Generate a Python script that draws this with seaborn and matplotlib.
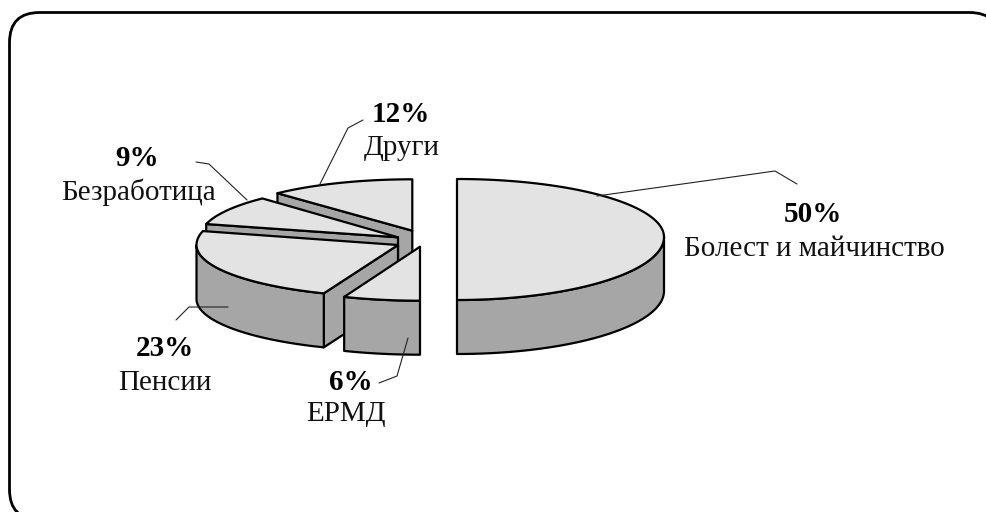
import numpy as np
import seaborn as sns
import matplotlib.pyplot as plt
from matplotlib.patches import FancyBboxPatch, Polygon

# Data
labels = ["Болест и майчинство", "ЕРМД", "Пенсии", "Безработица", "Други"]
shares = [50, 6, 23, 9, 12]
share_labels = ["50%", "6%", "23%", "9%", "12%"]

# Slice geometry in pixels: apex x, apex y, rx, ry back, ry front
geometry = [
    (457, 237, 207, 58, 63),
    (420, 246.7, 206, 54, 54),
    (398, 245, 201.5, 56, 52),
    (398, 237.3, 198, 53.3, 53.3),
    (412.3, 230.7, 197, 51.4, 51.4),
]
draw_order = [4, 3, 2, 1, 0]
depth = 54

TOP_COLOR = "#e3e3e3"
WALL_COLOR = "#a6a6a6"
EDGE = 1.6

# Label positions: share x, share y, name x, name y
label_pos = [
    (813, 215, 814, 249),
    (351, 382, 346, 414),
    (165, 349, 165, 383),
    (137, 159, 139, 192),
    (401, 115, 402, 148),
]
leaders = [
    [(597, 196), (775, 171), (797, 184)],
    [(408, 338), (397, 376), (379, 383)],
    [(228, 307), (189, 307), (176, 320)],
    [(247, 200), (209, 164), (196, 162)],
    [(319, 186), (348, 128), (363, 120)],
]

sns.set_theme(style="white")
plt.rcParams["font.family"] = ["Liberation Serif", "DejaVu Serif"]

fig, ax = plt.subplots(figsize=(9.86, 5.12), dpi=100)
ax.set_position([0, 0, 1, 1])
ax.set_xlim(0, 986)
ax.set_ylim(512, 0)
ax.axis("off")

# Rounded frame, runs past the right and bottom of the picture
frame = FancyBboxPatch(
    (39.5, 42.5), 930, 447,
    boxstyle="round,pad=30,rounding_size=30",
    fc="white", ec="black", lw=2.0, zorder=1
)
ax.add_patch(frame)


def rim(geo, t):
    x0, y0, rx, ry_back, ry_front = geo
    t = np.asarray(t, dtype=float)
    c = np.cos(t)
    ry = np.where(c > 0, ry_back, ry_front)
    return x0 + rx * np.sin(t), y0 - ry * c


def draw_slice(geo, start, end, z):
    x0, y0 = geo[0], geo[1]
    wall = dict(fc=WALL_COLOR, ec="black", lw=EDGE, joinstyle="round", zorder=z)

    # Radial side faces, only those turned to the viewer
    for t, visible in ((start, np.sin(start) < -1e-6), (end, np.sin(end) > 1e-6)):
        if visible:
            rx_pt, ry_pt = rim(geo, t)
            pts = [(x0, y0), (rx_pt, ry_pt), (rx_pt, ry_pt + depth), (x0, y0 + depth)]
            ax.add_patch(Polygon(pts, closed=True, **wall))

    # Outer wall along the front half of the rim
    a, b = max(start, np.pi / 2), min(end, 3 * np.pi / 2)
    if b > a:
        tt = np.linspace(a, b, 80)
        xs, ys = rim(geo, tt)
        pts = np.r_[np.c_[xs, ys], np.c_[xs[::-1], ys[::-1] + depth]]
        ax.add_patch(Polygon(pts, closed=True, **wall))

    # Top face
    tt = np.linspace(start, end, 120)
    xs, ys = rim(geo, tt)
    pts = np.r_[[(x0, y0)], np.c_[xs, ys]]
    ax.add_patch(Polygon(pts, closed=True, fc=TOP_COLOR, ec="black", lw=EDGE,
                         joinstyle="round", zorder=z))


edges = np.r_[0, np.cumsum(shares)] / np.sum(shares) * 2 * np.pi
for n, i in enumerate(draw_order):
    draw_slice(geometry[i], edges[i], edges[i + 1], 3 + n)

# Leader lines sit over the pie
for pts in leaders:
    xs, ys = zip(*pts)
    ax.plot(xs, ys, color="#222222", lw=0.8, zorder=20)

for name, share, (sx, sy, nx, ny) in zip(labels, share_labels, label_pos):
    ax.text(sx, sy, share, ha="center", va="center", fontsize=21,
            fontweight="bold", color="black", zorder=21)
    ax.text(nx, ny, name, ha="center", va="center", fontsize=21,
            color="#111111", zorder=21)

fig.savefig("out.png", dpi=100)
